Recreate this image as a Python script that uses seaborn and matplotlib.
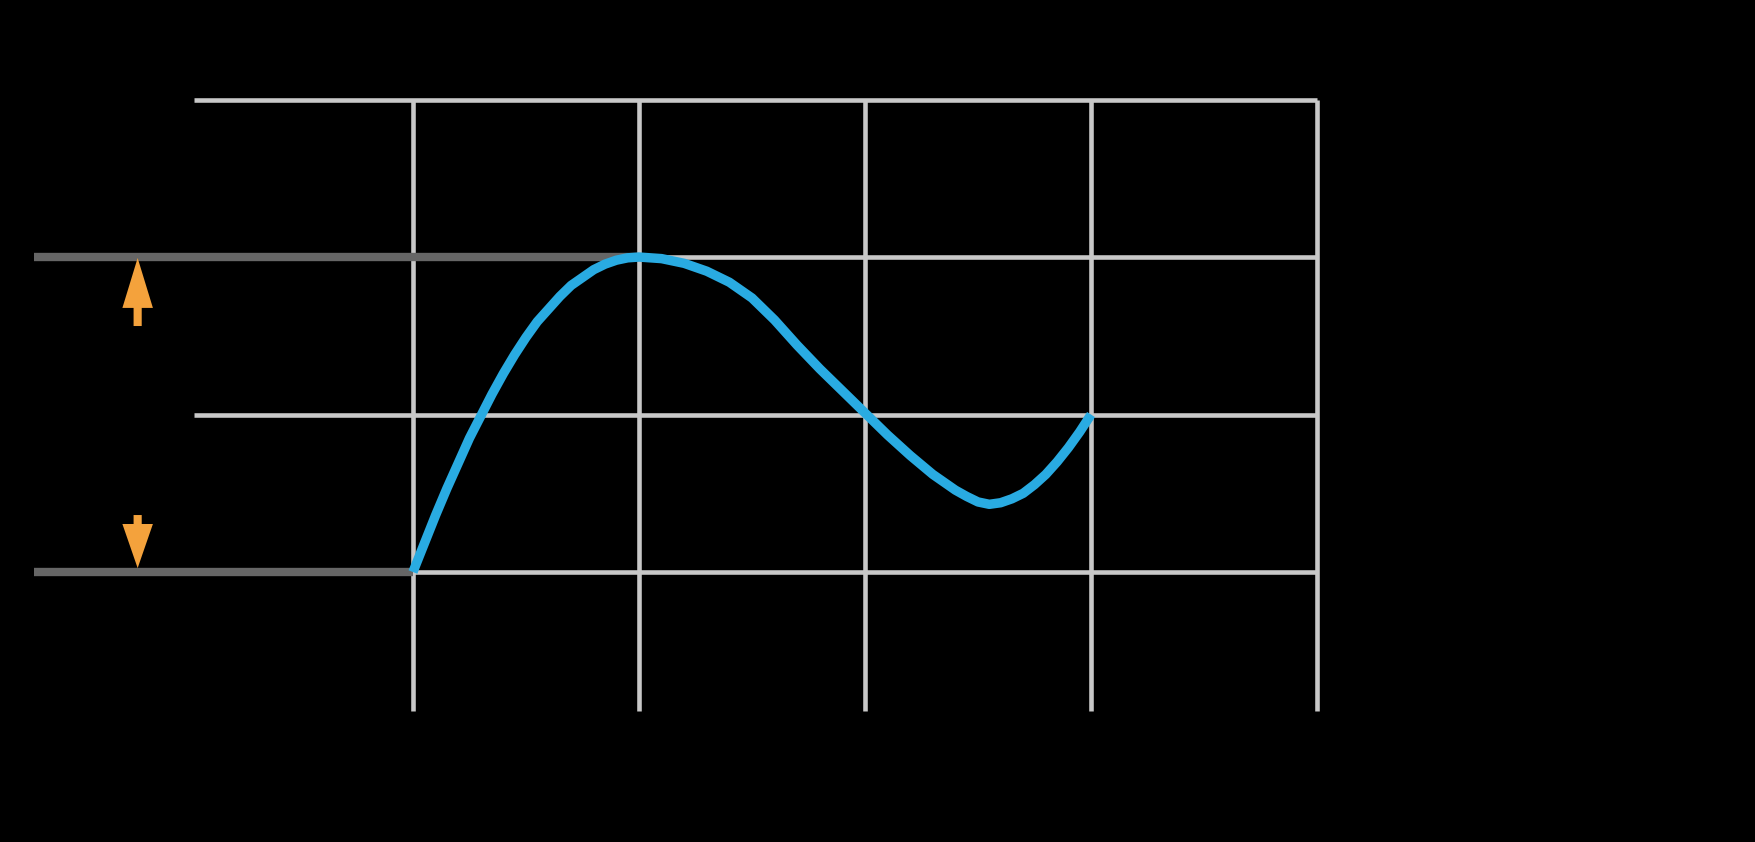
import numpy as np
import pandas as pd
import matplotlib
matplotlib.use("Agg")
import matplotlib.pyplot as plt
import seaborn as sns

# curve
curve_x = [1.00, 1.05, 1.10, 1.15, 1.20, 1.25, 1.30, 1.35, 1.40, 1.45, 1.50, 1.55, 1.60, 1.65,
           1.70, 1.75, 1.80, 1.85, 1.90, 1.95, 2.00, 2.10, 2.20, 2.30, 2.40, 2.50, 2.60, 2.70,
           2.80, 2.90, 3.00, 3.10, 3.20, 3.30, 3.40, 3.45, 3.50, 3.55, 3.60, 3.65, 3.70, 3.75,
           3.80, 3.85, 3.90, 3.95, 4.00]
curve_y = [1.00, 1.18, 1.36, 1.53, 1.69, 1.85, 1.99, 2.13, 2.26, 2.38, 2.49, 2.59, 2.67, 2.75,
           2.82, 2.87, 2.92, 2.955, 2.98, 2.995, 3.00, 2.99, 2.96, 2.91, 2.84, 2.74, 2.60, 2.44,
           2.29, 2.15, 2.01, 1.87, 1.74, 1.62, 1.52, 1.48, 1.445, 1.43, 1.44, 1.465, 1.50, 1.555,
           1.62, 1.70, 1.79, 1.89, 2.00]

grid_x = [1, 2, 3, 4, 5]
grid_y = [1, 2, 3, 4]
range_lo, range_hi = 1, 3
x_at_min, x_at_max = 1, 2

range_label = "Range: 1 < y < 3"
side_label = "Range"
y_label = "f(x)"
x_label = "x"

df = pd.DataFrame({"x": curve_x, "y": curve_y})

sns.set_style("white")
plt.rcParams["font.family"] = ["Liberation Sans", "DejaVu Sans"]

fig = plt.figure(figsize=(17.56, 8.42), dpi=100, facecolor="black")
ax = fig.add_axes([0, 0, 1, 1])
ax.set_xlim(-0.827, 6.942)
ax.set_ylim(-0.714, 4.632)
ax.axis("off")

x0, y0 = 0.03, 0.12  # where the (black) axes cross
grid_col = "#c8c8c8"

# black axes with arrow heads (same colour as the text)
ax.annotate("", xy=(x0, 4.62), xytext=(x0, y0), zorder=0,
            arrowprops=dict(arrowstyle="-|>,head_length=1.2,head_width=0.45", color="black", lw=2))
ax.annotate("", xy=(5.45, y0), xytext=(x0, y0), zorder=0,
            arrowprops=dict(arrowstyle="-|>,head_length=1.2,head_width=0.45", color="black", lw=2))

# grid
ax.hlines(grid_y, x0, grid_x[-1], color=grid_col, lw=3.3, zorder=1)
ax.vlines(grid_x, y0, grid_y[-1], color=grid_col, lw=3.3, zorder=1)

# range guide lines
ax.hlines(range_hi, -0.677, x_at_max, color="#666666", lw=6.0, zorder=2)
ax.hlines(range_lo, -0.677, x_at_min, color="#666666", lw=6.0, zorder=2)

sns.lineplot(data=df, x="x", y="y", ax=ax, color="#29abe2", lw=6.8,
             solid_capstyle="butt", solid_joinstyle="round", zorder=3)

# orange arrows
orange = "#f4a23c"
ax_x = -0.218
ax.arrow(ax_x, 2.562, 0, range_hi - 0.006 - 2.562, width=0.036, head_width=0.135,
         head_length=0.317, length_includes_head=True, color=orange, lw=0, zorder=4)
ax.arrow(ax_x, 1.362, 0, range_lo + 0.025 - 1.362, width=0.036, head_width=0.135,
         head_length=0.28, length_includes_head=True, color=orange, lw=0, zorder=4)

ax.text(ax_x, 1.965, side_label, rotation=90, ha="center", va="center",
        fontsize=42, color="black")
ax.text(5.137, 1.343, range_label, ha="left", va="baseline", fontsize=35, color="black")
ax.text(-0.814, 4.016, y_label, ha="left", va="baseline", fontsize=64,
        style="italic", color="black")
ax.text(5.013, -0.511, x_label, ha="left", va="baseline", fontsize=68,
        style="italic", color="black")

fig.savefig("out.png", dpi=100, facecolor="black")
